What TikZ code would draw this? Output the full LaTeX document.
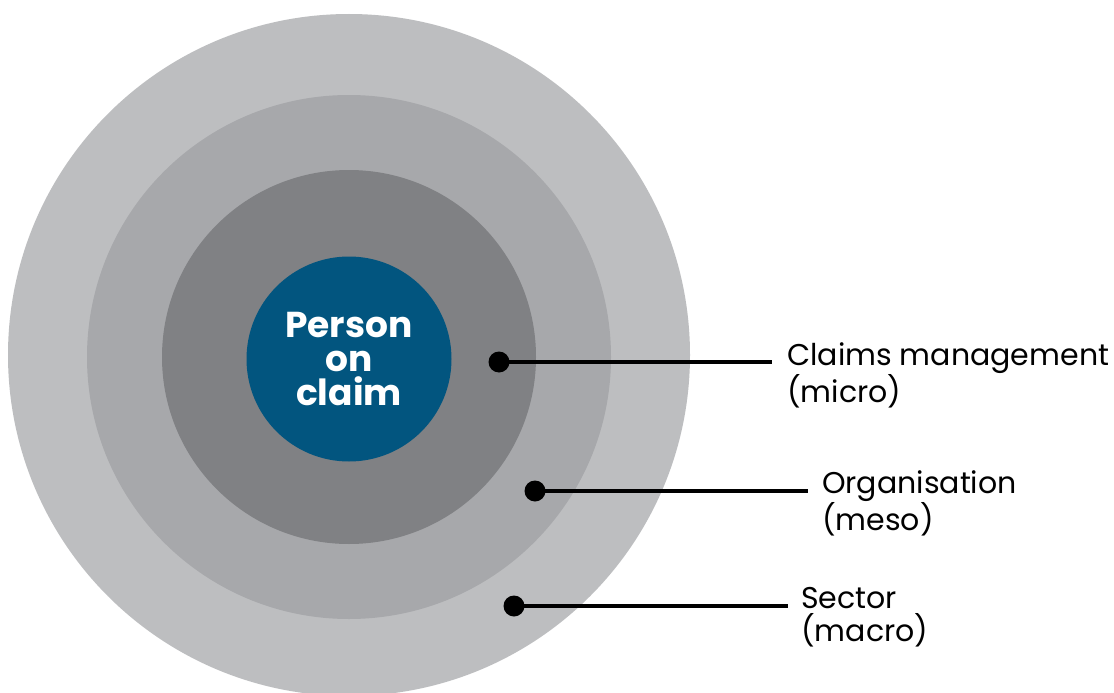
\documentclass[tikz,border=0pt]{standalone}
\usepackage{fontspec}
\setmainfont{Poppins}
\definecolor{ringA}{HTML}{BDBEC0}
\definecolor{ringB}{HTML}{A7A8AB}
\definecolor{ringC}{HTML}{808184}
\definecolor{core}{HTML}{02557F}
\tikzset{
  ring/.style={circle, draw=none, inner sep=0pt},
  dot/.style={circle, fill=black, minimum size=21pt, inner sep=0pt},
  lead/.style={line width=4.5pt},
  lbl/.style={anchor=west, align=left, font=\fontsize{30}{32.5}\selectfont, inner sep=0pt},
}
\begin{document}
\begin{tikzpicture}[x=1pt,y=-1pt]
\useasboundingbox (0,0) rectangle (1114,693);
\fill[white] (0,0) rectangle (1114,693);
\begin{scope}
\clip (0,0) rectangle (1114,693);
\node[ring, fill=ringA, minimum size=682pt] (macro) at (349,355) {};
\node[ring, fill=ringB, minimum size=524pt] (meso) at (349,357) {};
\node[ring, fill=ringC, minimum size=374pt] (micro) at (349,357) {};
\node[ring, fill=core, minimum size=205pt, text=white, align=center,
      font=\fontsize{36}{34}\selectfont\bfseries] (person) at (349,359) {Person\\on\\claim};
\end{scope}
\node[dot] (d1) at (499,362) {};
\node[dot] (d2) at (535,491) {};
\node[dot] (d3) at (514,606) {};
\coordinate (e1) at (772,362);
\coordinate (e2) at (808,491);
\coordinate (e3) at (788,606);
\draw[lead] (d1.center) -- (e1);
\draw[lead] (d2.center) -- (e2);
\draw[lead] (d3.center) -- (e3);
\node[lbl] (t1) at (787,375) {Claims management\\(micro)};
\node[lbl] (t2) at (822,503) {Organisation\\(meso)};
\node[lbl] (t3) at (801,617) {Sector\\(macro)};
\end{tikzpicture}
\end{document}
